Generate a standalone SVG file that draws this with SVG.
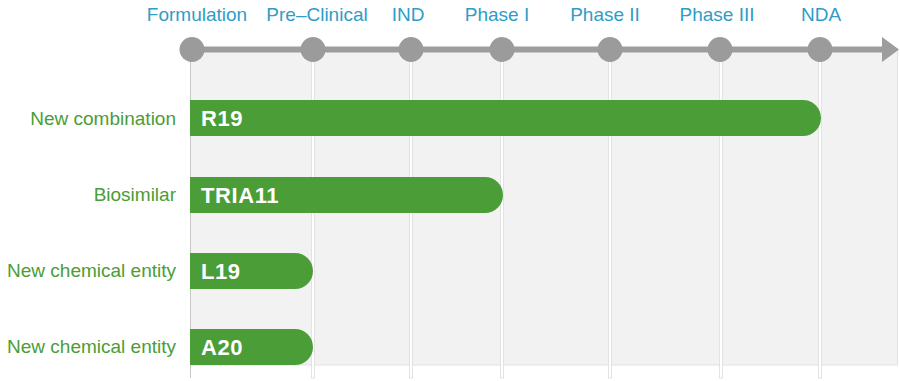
<svg xmlns="http://www.w3.org/2000/svg" width="900" height="381" viewBox="0 0 900 381">
<style>
.phase{font-family:"Liberation Sans",Arial,sans-serif;font-size:19px;fill:#2f9dc7;text-anchor:middle}
.cat{font-family:"Liberation Sans",Arial,sans-serif;font-size:19px;fill:#4a9d37;text-anchor:end}
.code{font-family:"Liberation Sans",Arial,sans-serif;font-size:22px;font-weight:bold;fill:#ffffff;letter-spacing:0.6px}
.bar{fill:#4a9d37}
.sep{fill:#ffffff;stroke:#dcdcdc;stroke-width:0.8}
.dot{fill:#9b9b9b}
</style>
<rect width="900" height="381" fill="#ffffff"/>
<g id="panel">
<rect x="190.5" y="50" width="707" height="315" fill="#f2f2f2" stroke="#e2e2e2" stroke-width="1"/>
<line x1="190.5" y1="50" x2="190.5" y2="378" stroke="#c8c8c8" stroke-width="1"/>
<rect class="sep" x="311.5" y="52" width="3" height="326"/>
<rect class="sep" x="409.5" y="52" width="3" height="326"/>
<rect class="sep" x="500.5" y="52" width="3" height="326"/>
<rect class="sep" x="608.5" y="52" width="3" height="326"/>
<rect class="sep" x="719.5" y="52" width="3" height="326"/>
<rect class="sep" x="818.5" y="52" width="3" height="326"/>
</g>
<g id="connectors">
<line x1="192" y1="49.5" x2="884" y2="49.5" stroke="#9d9d9d" stroke-width="6"/>
<polygon points="882,37 899,49.5 882,62" fill="#9d9d9d"/>
</g>
<g id="milestones">
<g id="m-formulation"><circle class="dot" cx="192" cy="49.5" r="12.5"/><text class="phase" x="197" y="21">Formulation</text></g>
<g id="m-preclinical"><circle class="dot" cx="313" cy="49.5" r="12.5"/><text class="phase" x="317" y="21">Pre–Clinical</text></g>
<g id="m-ind"><circle class="dot" cx="411" cy="49.5" r="12.5"/><text class="phase" x="408" y="21">IND</text></g>
<g id="m-phase1"><circle class="dot" cx="502" cy="49.5" r="12.5"/><text class="phase" x="497" y="21">Phase I</text></g>
<g id="m-phase2"><circle class="dot" cx="610" cy="49.5" r="12.5"/><text class="phase" x="605" y="21">Phase II</text></g>
<g id="m-phase3"><circle class="dot" cx="720" cy="49.5" r="12.5"/><text class="phase" x="717" y="21">Phase III</text></g>
<g id="m-nda"><circle class="dot" cx="820" cy="49.5" r="12.5"/><text class="phase" x="821" y="21">NDA</text></g>
</g>
<g id="row-r19">
<text class="cat" x="176" y="125">New combination</text>
<path class="bar" d="M190,100 H803 A18,18 0 0 1 803,136 H190 Z"/>
<text class="code" x="201" y="126">R19</text>
</g>
<g id="row-tria11">
<text class="cat" x="176" y="201">Biosimilar</text>
<path class="bar" d="M190,177 H485 A18,18 0 0 1 485,213 H190 Z"/>
<text class="code" x="201" y="202.5">TRIA11</text>
</g>
<g id="row-l19">
<text class="cat" x="176" y="277">New chemical entity</text>
<path class="bar" d="M190,253 H295 A18,18 0 0 1 295,289 H190 Z"/>
<text class="code" x="201" y="278.5">L19</text>
</g>
<g id="row-a20">
<text class="cat" x="176" y="353">New chemical entity</text>
<path class="bar" d="M190,329 H295 A18,18 0 0 1 295,365 H190 Z"/>
<text class="code" x="201" y="354.5">A20</text>
</g>
</svg>
